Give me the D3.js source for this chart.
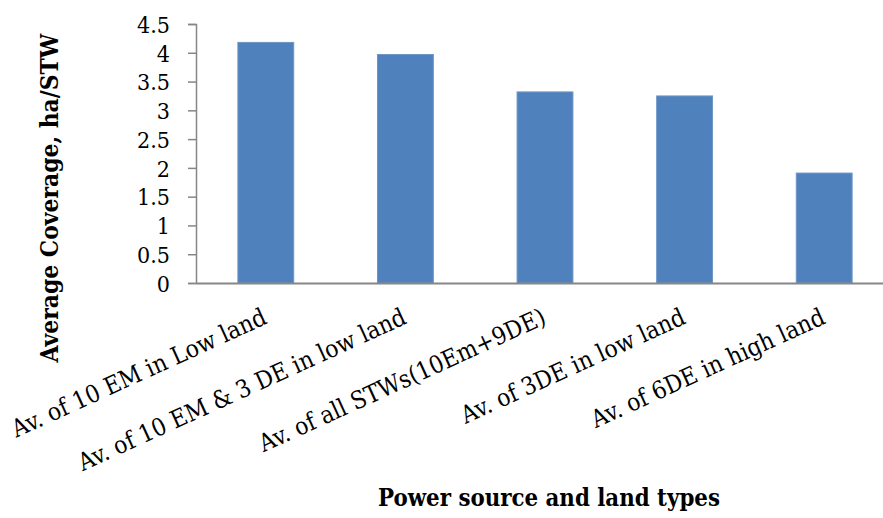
<!DOCTYPE html>
<html>
<head>
<meta charset="utf-8">
<script src="https://cdn.jsdelivr.net/npm/d3@7"></script>
<style>
html,body{margin:0;padding:0;background:#fff;}
svg{display:block;}
text{font-stretch:condensed;}
</style>
</head>
<body>
<svg id="chart" width="883" height="518"></svg>
<script>
const categories = [
  "Av. of 10 EM in Low land",
  "Av. of 10 EM & 3 DE in low land",
  "Av. of all STWs(10Em+9DE)",
  "Av. of 3DE in low land",
  "Av. of 6DE in high land"
];
const values = [4.18, 3.97, 3.32, 3.25, 1.91];
const yTicks = [0, 0.5, 1, 1.5, 2, 2.5, 3, 3.5, 4, 4.5];
const yTickLabels = ["0", "0.5", "1", "1.5", "2", "2.5", "3", "3.5", "4", "4.5"];
const yTitle = "Average Coverage, ha/STW";
const xTitle = "Power source and land types";

const FONT = "'DejaVu Serif Condensed', 'DejaVu Serif', 'Liberation Serif', serif";
const svg = d3.select("#chart");
const plotLeft = 196, plotRight = 894, plotTop = 24, plotBottom = 283;

// scale a text selection's font size so that a reference node reaches a target length
function fitSize(sel, refNode, target, base) {
  const len = refNode.getComputedTextLength();
  const size = base * target / len;
  sel.attr("font-size", size);
  return size;
}

const x = d3.scaleBand().domain(categories).range([plotLeft, plotRight]).paddingInner(0.6).paddingOuter(0.3);
const y = d3.scaleLinear().domain([0, 4.5]).range([plotBottom, plotTop]);

// bars
svg.append("g").selectAll("rect").data(values).join("rect")
  .attr("x", (d, i) => x(categories[i]))
  .attr("y", d => y(d))
  .attr("width", x.bandwidth())
  .attr("height", d => y(0) - y(d))
  .attr("fill", "#4f81bd")
  .attr("stroke", "#6d95c6")
  .attr("stroke-width", 1);

// y axis
const yAxis = d3.axisLeft(y).tickValues(yTicks)
  .tickFormat((d, i) => yTickLabels[i]).tickSize(8).tickPadding(18);
const gy = svg.append("g").attr("transform", `translate(${plotLeft},0)`).call(yAxis);
gy.select(".domain").attr("stroke", "#868686").attr("stroke-width", 1.5);
gy.selectAll(".tick line").attr("stroke", "#868686").attr("stroke-width", 1.5);
const tickTexts = gy.selectAll(".tick text").attr("font-family", FONT).attr("font-size", 20).attr("fill", "#000").attr("dy", "0.36em");
const refTick = tickTexts.filter((d, i) => yTickLabels[i] === "4.5").node();
fitSize(tickTexts, refTick, 33, 20);

// x axis
const xAxis = d3.axisBottom(x).tickSize(0).tickSizeOuter(0).tickFormat("");
const gx = svg.append("g").attr("transform", `translate(0,${plotBottom})`).call(xAxis);
gx.select(".domain").attr("stroke", "#868686").attr("stroke-width", 2);

// rotated category labels
const catTexts = svg.append("g").selectAll("text").data(categories).join("text")
  .attr("transform", d => `translate(${x(d) + x.bandwidth() / 2 + 2.5},${plotBottom + 40}) rotate(-24.5)`)
  .attr("text-anchor", "end")
  .attr("font-family", FONT)
  .attr("font-size", 20)
  .attr("fill", "#000")
  .text(d => d);
fitSize(catTexts, catTexts.nodes()[0], 277, 20);

// y title
const yT = svg.append("text")
  .attr("transform", `translate(58,198) rotate(-90)`)
  .attr("text-anchor", "middle")
  .attr("font-family", FONT)
  .attr("font-weight", "bold")
  .attr("font-size", 20)
  .attr("fill", "#000")
  .text(yTitle);
fitSize(yT, yT.node(), 329, 20);

// x title
const xT = svg.append("text")
  .attr("x", 549).attr("y", 506)
  .attr("text-anchor", "middle")
  .attr("font-family", FONT)
  .attr("font-weight", "bold")
  .attr("font-size", 20)
  .attr("fill", "#000")
  .text(xTitle);
fitSize(xT, xT.node(), 342, 20);
</script>
</body>
</html>
